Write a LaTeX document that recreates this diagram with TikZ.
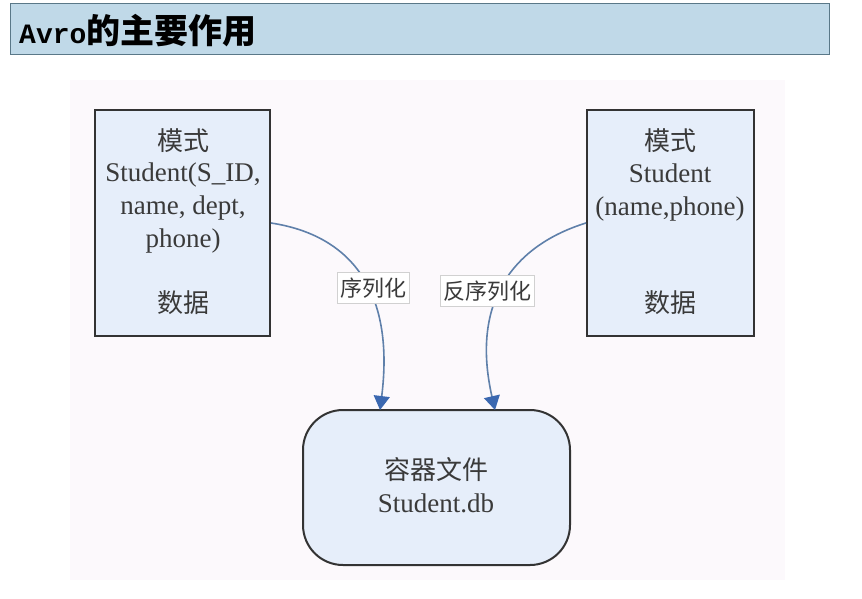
\documentclass[tikz,border=0pt]{standalone}
\usepackage{fontspec}
\setmainfont{Liberation Serif}
\newfontfamily\cjk{Noto Sans CJK SC}
\newfontfamily\titlemono{Liberation Mono}
\usetikzlibrary{arrows.meta}
\definecolor{titlefill}{HTML}{C0D9E8}
\definecolor{titleline}{HTML}{5A7888}
\definecolor{boxfill}{HTML}{E6EEFA}
\definecolor{boxline}{HTML}{333333}
\definecolor{txt}{HTML}{3A3A3A}
\definecolor{conn}{HTML}{5F80AA}
\definecolor{tip}{HTML}{3B68B0}
\definecolor{bgpink}{HTML}{FCF9FC}
\tikzset{
  box/.style={draw=boxline, line width=2pt, fill=boxfill, minimum height=226pt, inner sep=0pt},
  dbbox/.style={draw=boxline, line width=2pt, fill=boxfill, rounded corners=40pt, minimum width=267pt, minimum height=155pt, inner sep=0pt},
  txtnode/.style={text=txt, font=\fontsize{27}{33}\selectfont, align=center, inner sep=0pt},
  cjktxt/.style={text=txt, font=\cjk\fontsize{26}{30}\selectfont, inner sep=0pt},
  lab/.style={fill=white, draw=black!18, line width=0.6pt, text=txt, font=\cjk\fontsize{22}{24}\selectfont, inner sep=3pt, minimum height=31pt},
  connector/.style={draw=conn, line width=1.6pt, -{Triangle[width=16pt,length=14pt,fill=tip,color=tip]}}
}
\begin{document}
\begin{tikzpicture}[x=1pt,y=-1pt]
\useasboundingbox (0,0) rectangle (862,598);
\fill[white] (0,0) rectangle (862,598);
% title bar
\node[draw=titleline, line width=1pt, fill=titlefill, minimum width=819pt, minimum height=51pt, inner sep=0pt] (title) at (419.5,28.5) {};
\node[anchor=west, inner sep=0pt, font=\bfseries] (titletext) at (19,31) {{\titlemono\fontsize{28}{30}\selectfont Avro}{\cjk\fontsize{34}{34}\selectfont 的主要作用}};
% diagram background
\fill[bgpink] (70,80) rectangle (785,580);
% boxes
\node[box, minimum width=175pt] (ls) at (182.5,223) {};
\node[box, minimum width=167pt] (rs) at (670.5,223) {};
\node[dbbox] (db) at (436.5,487.5) {};
% left box text
\node[cjktxt] (l1) at (183,141) {模式};
\node[txtnode] (l2) at (183,208) {Student(S\_ID,\\name, dept,\\phone)};
\node[cjktxt] (l3) at (183,303) {数据};
% right box text
\node[cjktxt] (r1) at (670,141) {模式};
\node[txtnode] (r2) at (670,193) {Student\\(name,phone)};
\node[cjktxt] (r3) at (670,303) {数据};
% db text
\node[cjktxt] (d1) at (436,470) {容器文件};
\node[txtnode] (d2) at (436,503) {Student.db};
% connectors
\coordinate (dbl) at (380,410);
\coordinate (dbr) at (495,410);
\draw[connector] (ls.east) .. controls (350,235) and (395,290) .. (dbl);
\draw[connector] (rs.west) .. controls (515,245) and (470,300) .. (dbr);
\node[lab] (s1) at (373,288) {序列化};
\node[lab] (s2) at (487,291) {反序列化};
\end{tikzpicture}
\end{document}
